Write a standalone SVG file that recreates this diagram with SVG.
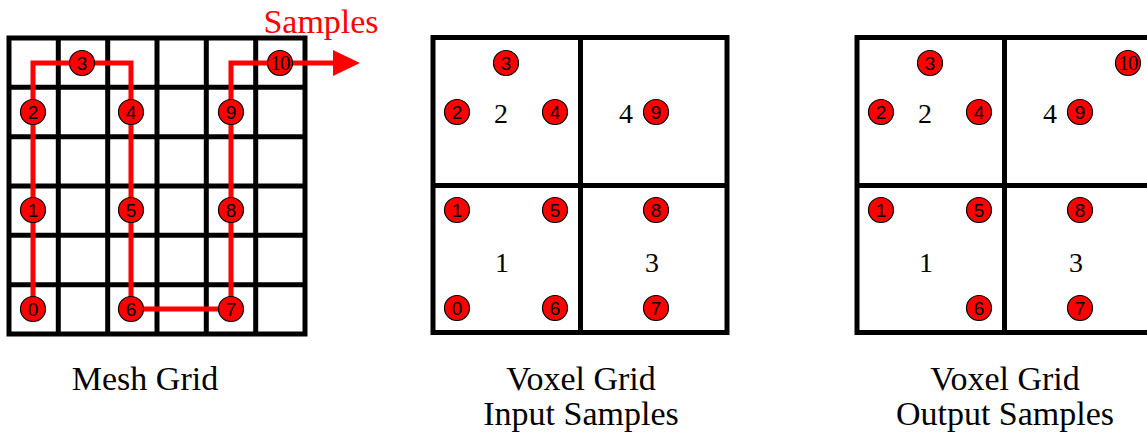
<svg xmlns="http://www.w3.org/2000/svg" width="1147" height="443" viewBox="0 0 1147 443">
<style>
.grid{fill:none;stroke:#000;stroke-width:5}
.s circle{fill:#ff0000;stroke:#000;stroke-width:1.2}
.s text{font-family:"Liberation Sans",Arial,sans-serif;font-size:19px;text-anchor:middle;fill:#000}
.s text.ten{font-family:"Liberation Serif","Times New Roman",serif;font-size:21px;letter-spacing:-1px}
.lbl{font-family:"Liberation Serif","Times New Roman",serif;font-size:34px;text-anchor:middle;fill:#000}
.cell{font-family:"Liberation Serif","Times New Roman",serif;font-size:28px;text-anchor:middle;fill:#000}
.path{fill:none;stroke:#ff0000;stroke-width:5;stroke-linejoin:miter}
</style>
<rect width="1147" height="443" fill="#fff"/>

<!-- Mesh grid -->
<g id="mesh-grid" class="grid">
  <rect x="9" y="38" width="296" height="296"/>
  <path d="M58.3 38V334M107.7 38V334M157 38V334M206.3 38V334M255.7 38V334M9 87.3H305M9 136.7H305M9 186H305M9 235.3H305M9 284.7H305"/>
</g>

<!-- Connectors -->
<g id="connectors">
  <path class="path" d="M33 309V63H131V309H231V63H335"/>
  <polygon points="333,50 360,63 333,76" fill="#ff0000"/>
</g>
<text id="samples-label" x="321" y="33" font-family="'Liberation Serif','Times New Roman',serif" font-size="34" fill="#ff0000" text-anchor="middle">Samples</text>

<!-- Mesh samples -->
<g id="m0" class="s"><circle cx="33" cy="309" r="12.5"/><text x="33" y="316">0</text></g>
<g id="m1" class="s"><circle cx="33" cy="210" r="12.5"/><text x="33" y="217">1</text></g>
<g id="m2" class="s"><circle cx="33" cy="112" r="12.5"/><text x="33" y="119">2</text></g>
<g id="m3" class="s"><circle cx="82" cy="63" r="12.5"/><text x="82" y="70">3</text></g>
<g id="m4" class="s"><circle cx="131" cy="112" r="12.5"/><text x="131" y="119">4</text></g>
<g id="m5" class="s"><circle cx="131" cy="210" r="12.5"/><text x="131" y="217">5</text></g>
<g id="m6" class="s"><circle cx="131" cy="309" r="12.5"/><text x="131" y="316">6</text></g>
<g id="m7" class="s"><circle cx="231" cy="309" r="12.5"/><text x="231" y="316">7</text></g>
<g id="m8" class="s"><circle cx="231" cy="210" r="12.5"/><text x="231" y="217">8</text></g>
<g id="m9" class="s"><circle cx="231" cy="112" r="12.5"/><text x="231" y="119">9</text></g>
<g id="m10" class="s"><circle cx="280" cy="63" r="12.5"/><text class="ten" x="280" y="70">10</text></g>

<!-- Voxel grid input -->
<g id="voxel-input-grid" class="grid">
  <rect x="433" y="37.5" width="294" height="295"/>
  <path d="M580.5 37.5V332.5M433 185.5H727"/>
</g>
<g id="vin-cells">
  <text class="cell" x="501" y="123">2</text>
  <text class="cell" x="626" y="123">4</text>
  <text class="cell" x="502" y="272">1</text>
  <text class="cell" x="652" y="272">3</text>
</g>
<g id="vi0" class="s"><circle cx="457" cy="308" r="12.5"/><text x="457" y="315">0</text></g>
<g id="vi1" class="s"><circle cx="457" cy="210" r="12.5"/><text x="457" y="217">1</text></g>
<g id="vi2" class="s"><circle cx="457" cy="112" r="12.5"/><text x="457" y="119">2</text></g>
<g id="vi3" class="s"><circle cx="506" cy="63" r="12.5"/><text x="506" y="70">3</text></g>
<g id="vi4" class="s"><circle cx="555" cy="112" r="12.5"/><text x="555" y="119">4</text></g>
<g id="vi5" class="s"><circle cx="555" cy="210" r="12.5"/><text x="555" y="217">5</text></g>
<g id="vi6" class="s"><circle cx="555" cy="308" r="12.5"/><text x="555" y="315">6</text></g>
<g id="vi7" class="s"><circle cx="656" cy="308" r="12.5"/><text x="656" y="315">7</text></g>
<g id="vi8" class="s"><circle cx="656" cy="210" r="12.5"/><text x="656" y="217">8</text></g>
<g id="vi9" class="s"><circle cx="656" cy="112" r="12.5"/><text x="656" y="119">9</text></g>

<!-- Voxel grid output -->
<g id="voxel-output-grid" class="grid">
  <rect x="857" y="37.5" width="295" height="295"/>
  <path d="M1004.5 37.5V332.5M857 185.5H1152"/>
</g>
<g id="vout-cells">
  <text class="cell" x="925" y="123">2</text>
  <text class="cell" x="1050" y="123">4</text>
  <text class="cell" x="926" y="272">1</text>
  <text class="cell" x="1076" y="272">3</text>
</g>
<g id="vo1" class="s"><circle cx="881" cy="210" r="12.5"/><text x="881" y="217">1</text></g>
<g id="vo2" class="s"><circle cx="881" cy="112" r="12.5"/><text x="881" y="119">2</text></g>
<g id="vo3" class="s"><circle cx="930" cy="63" r="12.5"/><text x="930" y="70">3</text></g>
<g id="vo4" class="s"><circle cx="979" cy="112" r="12.5"/><text x="979" y="119">4</text></g>
<g id="vo5" class="s"><circle cx="979" cy="210" r="12.5"/><text x="979" y="217">5</text></g>
<g id="vo6" class="s"><circle cx="979" cy="308" r="12.5"/><text x="979" y="315">6</text></g>
<g id="vo7" class="s"><circle cx="1080" cy="308" r="12.5"/><text x="1080" y="315">7</text></g>
<g id="vo8" class="s"><circle cx="1080" cy="210" r="12.5"/><text x="1080" y="217">8</text></g>
<g id="vo9" class="s"><circle cx="1080" cy="112" r="12.5"/><text x="1080" y="119">9</text></g>
<g id="vo10" class="s"><circle cx="1128" cy="63" r="12.5"/><text class="ten" x="1128" y="70">10</text></g>

<!-- Labels -->
<g id="labels">
  <text class="lbl" x="145" y="390">Mesh Grid</text>
  <text class="lbl" x="581" y="390">Voxel Grid</text>
  <text class="lbl" x="581" y="425">Input Samples</text>
  <text class="lbl" x="1005" y="390">Voxel Grid</text>
  <text class="lbl" x="1005" y="425">Output Samples</text>
</g>
</svg>
